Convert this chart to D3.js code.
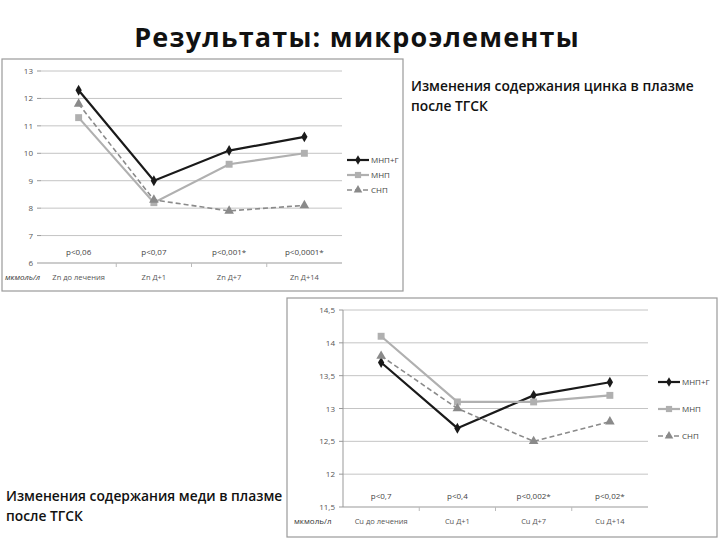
<!DOCTYPE html>
<html>
<head>
<meta charset="utf-8">
<script src="https://cdn.jsdelivr.net/npm/d3@7"></script>
<style>
  body { margin: 0; background: #fff; }
  svg { display: block; font-family: "Open Sans", "Noto Sans", sans-serif; }
</style>
</head>
<body>
<svg id="chart" width="720" height="540"></svg>
<script>
const seriesNames = ["МНП+Г", "МНП", "СНП"];

const znCategories = ["Zn до лечения", "Zn Д+1", "Zn Д+7", "Zn Д+14"];
const znPValues = ["p<0,06", "p<0,07", "p<0,001*", "p<0,0001*"];
const znTicks = [6, 7, 8, 9, 10, 11, 12, 13];
const znMNPG = [12.3, 9.0, 10.1, 10.6];
const znMNP = [11.3, 8.2, 9.6, 10.0];
const znSNP = [11.8, 8.3, 7.9, 8.1];

const cuCategories = ["Cu до лечения", "Cu Д+1", "Cu Д+7", "Cu Д+14"];
const cuPValues = ["p<0,7", "p<0,4", "p<0,002*", "p<0,02*"];
const cuTicks = [11.5, 12, 12.5, 13, 13.5, 14, 14.5];
const cuMNPG = [13.7, 12.7, 13.2, 13.4];
const cuMNP = [14.1, 13.1, 13.1, 13.2];
const cuSNP = [13.8, 13.0, 12.5, 12.8];

const svg = d3.select("#chart");

const styles = [
  { color: "#1a1a1a", width: 2.2, dash: null, symbol: d3.symbolDiamond, size: 34 },
  { color: "#b0b0b0", width: 2.2, dash: null, symbol: d3.symbolSquare, size: 48 },
  { color: "#8a8a8a", width: 1.6, dash: "5 3", symbol: d3.symbolTriangle, size: 40 }
];

svg.append("text")
  .attr("x", 357).attr("y", 47)
  .attr("text-anchor", "middle")
  .attr("font-size", 27).attr("font-weight", "bold")
  .attr("letter-spacing", 1.2)
  .attr("fill", "#111")
  .text("Результаты: микроэлементы");

function drawChart(opt) {
  const g = svg.append("g");
  g.append("rect")
    .attr("x", opt.frame[0]).attr("y", opt.frame[1])
    .attr("width", opt.frame[2]).attr("height", opt.frame[3])
    .attr("fill", "#fff").attr("stroke", "#9a9a9a").attr("stroke-width", 1.2);

  const x = d3.scaleBand().domain(opt.categories).range([opt.left, opt.right]);
  const y = d3.scaleLinear().domain(d3.extent(opt.ticks)).range([opt.bottom, opt.top]);

  g.append("g").selectAll("line")
    .data(opt.ticks)
    .join("line")
    .attr("x1", opt.left).attr("x2", opt.right)
    .attr("y1", d => y(d)).attr("y2", d => y(d))
    .attr("stroke", d => d === opt.ticks[0] ? "#999" : "#c4c4c4")
    .attr("stroke-width", 1);

  if (opt.yAxisLine) {
    g.append("line")
      .attr("x1", opt.left).attr("x2", opt.left)
      .attr("y1", y(opt.ticks[opt.ticks.length - 1])).attr("y2", opt.bottom)
      .attr("stroke", "#999");
  }

  g.append("g").selectAll("line")
    .data(opt.ticks)
    .join("line")
    .attr("x1", opt.left - 4).attr("x2", opt.left)
    .attr("y1", d => y(d)).attr("y2", d => y(d))
    .attr("stroke", "#999");

  g.append("g").selectAll("text")
    .data(opt.ticks)
    .join("text")
    .attr("x", opt.left - 8).attr("y", d => y(d) + 3)
    .attr("text-anchor", "end")
    .attr("font-size", 8).attr("fill", "#555")
    .text(d => String(d).replace(".", ","));

  g.append("g").selectAll("line")
    .data(opt.categories.slice(1))
    .join("line")
    .attr("x1", d => x(d)).attr("x2", d => x(d))
    .attr("y1", opt.bottom).attr("y2", opt.bottom + 4)
    .attr("stroke", "#bbb");

  g.append("g").selectAll("text")
    .data(opt.pValues)
    .join("text")
    .attr("x", (d, i) => x(opt.categories[i]) + x.bandwidth() / 2)
    .attr("y", opt.bottom - 8)
    .attr("text-anchor", "middle")
    .attr("font-size", 8).attr("fill", "#444")
    .text(d => d);

  g.append("g").selectAll("text")
    .data(opt.categories)
    .join("text")
    .attr("x", d => x(d) + x.bandwidth() / 2)
    .attr("y", opt.bottom + 17)
    .attr("text-anchor", "middle")
    .attr("font-size", 7.5).attr("fill", "#555")
    .text(d => d);

  g.append("text")
    .attr("x", opt.unitX).attr("y", opt.bottom + 17)
    .attr("font-size", 8).attr("font-style", opt.unitItalic ? "italic" : "normal").attr("fill", "#333")
    .text("мкмоль/л");

  const line = d3.line()
    .x((d, i) => x(opt.categories[i]) + x.bandwidth() / 2)
    .y(d => y(d));

  opt.series.forEach((vals, s) => {
    const st = styles[s];
    g.append("path")
      .datum(vals)
      .attr("d", line)
      .attr("fill", "none")
      .attr("stroke", st.color)
      .attr("stroke-width", st.width)
      .attr("stroke-dasharray", st.dash);
    g.append("g").selectAll("path")
      .data(vals)
      .join("path")
      .attr("transform", (d, i) => `translate(${x(opt.categories[i]) + x.bandwidth() / 2},${y(d)})`)
      .attr("d", d3.symbol().type(st.symbol).size(st.size))
      .attr("fill", st.color);
  });

  const legend = g.append("g")
    .selectAll("g")
    .data(seriesNames)
    .join("g")
    .attr("transform", (d, i) => `translate(${opt.legend[0]},${opt.legend[1] + i * opt.legend[2]})`);
  legend.append("line")
    .attr("x1", 0).attr("x2", 22)
    .attr("stroke", (d, i) => styles[i].color)
    .attr("stroke-width", (d, i) => styles[i].width)
    .attr("stroke-dasharray", (d, i) => styles[i].dash);
  legend.append("path")
    .attr("transform", "translate(11,0)")
    .attr("d", (d, i) => d3.symbol().type(styles[i].symbol).size(styles[i].size * 0.8)())
    .attr("fill", (d, i) => styles[i].color);
  legend.append("text")
    .attr("x", 24).attr("y", 3)
    .attr("font-size", 8).attr("fill", "#444")
    .text(d => d);
}

drawChart({
  frame: [2, 59, 401, 232],
  categories: znCategories, pValues: znPValues, ticks: znTicks,
  series: [znMNPG, znMNP, znSNP],
  left: 41, right: 342, top: 71, bottom: 263,
  yAxisLine: false, unitX: 5, unitItalic: true,
  legend: [347, 160, 15]
});

drawChart({
  frame: [287, 298, 430, 239],
  categories: cuCategories, pValues: cuPValues, ticks: cuTicks,
  series: [cuMNPG, cuMNP, cuSNP],
  left: 343, right: 648, top: 310, bottom: 507,
  yAxisLine: true, unitX: 294, unitItalic: false,
  legend: [658, 382, 27]
});

function caption(x0, y0, lines) {
  svg.append("text")
    .attr("x", x0).attr("y", y0)
    .attr("font-size", 13.8).attr("font-weight", 600).attr("fill", "#111")
    .selectAll("tspan")
    .data(lines)
    .join("tspan")
    .attr("x", x0).attr("dy", (d, i) => i === 0 ? 0 : 20)
    .text(d => d);
}

caption(411, 91, ["Изменения содержания цинка в плазме", "после ТГСК"]);
caption(6, 501, ["Изменения содержания меди в плазме", "после ТГСК"]);
</script>
</body>
</html>
